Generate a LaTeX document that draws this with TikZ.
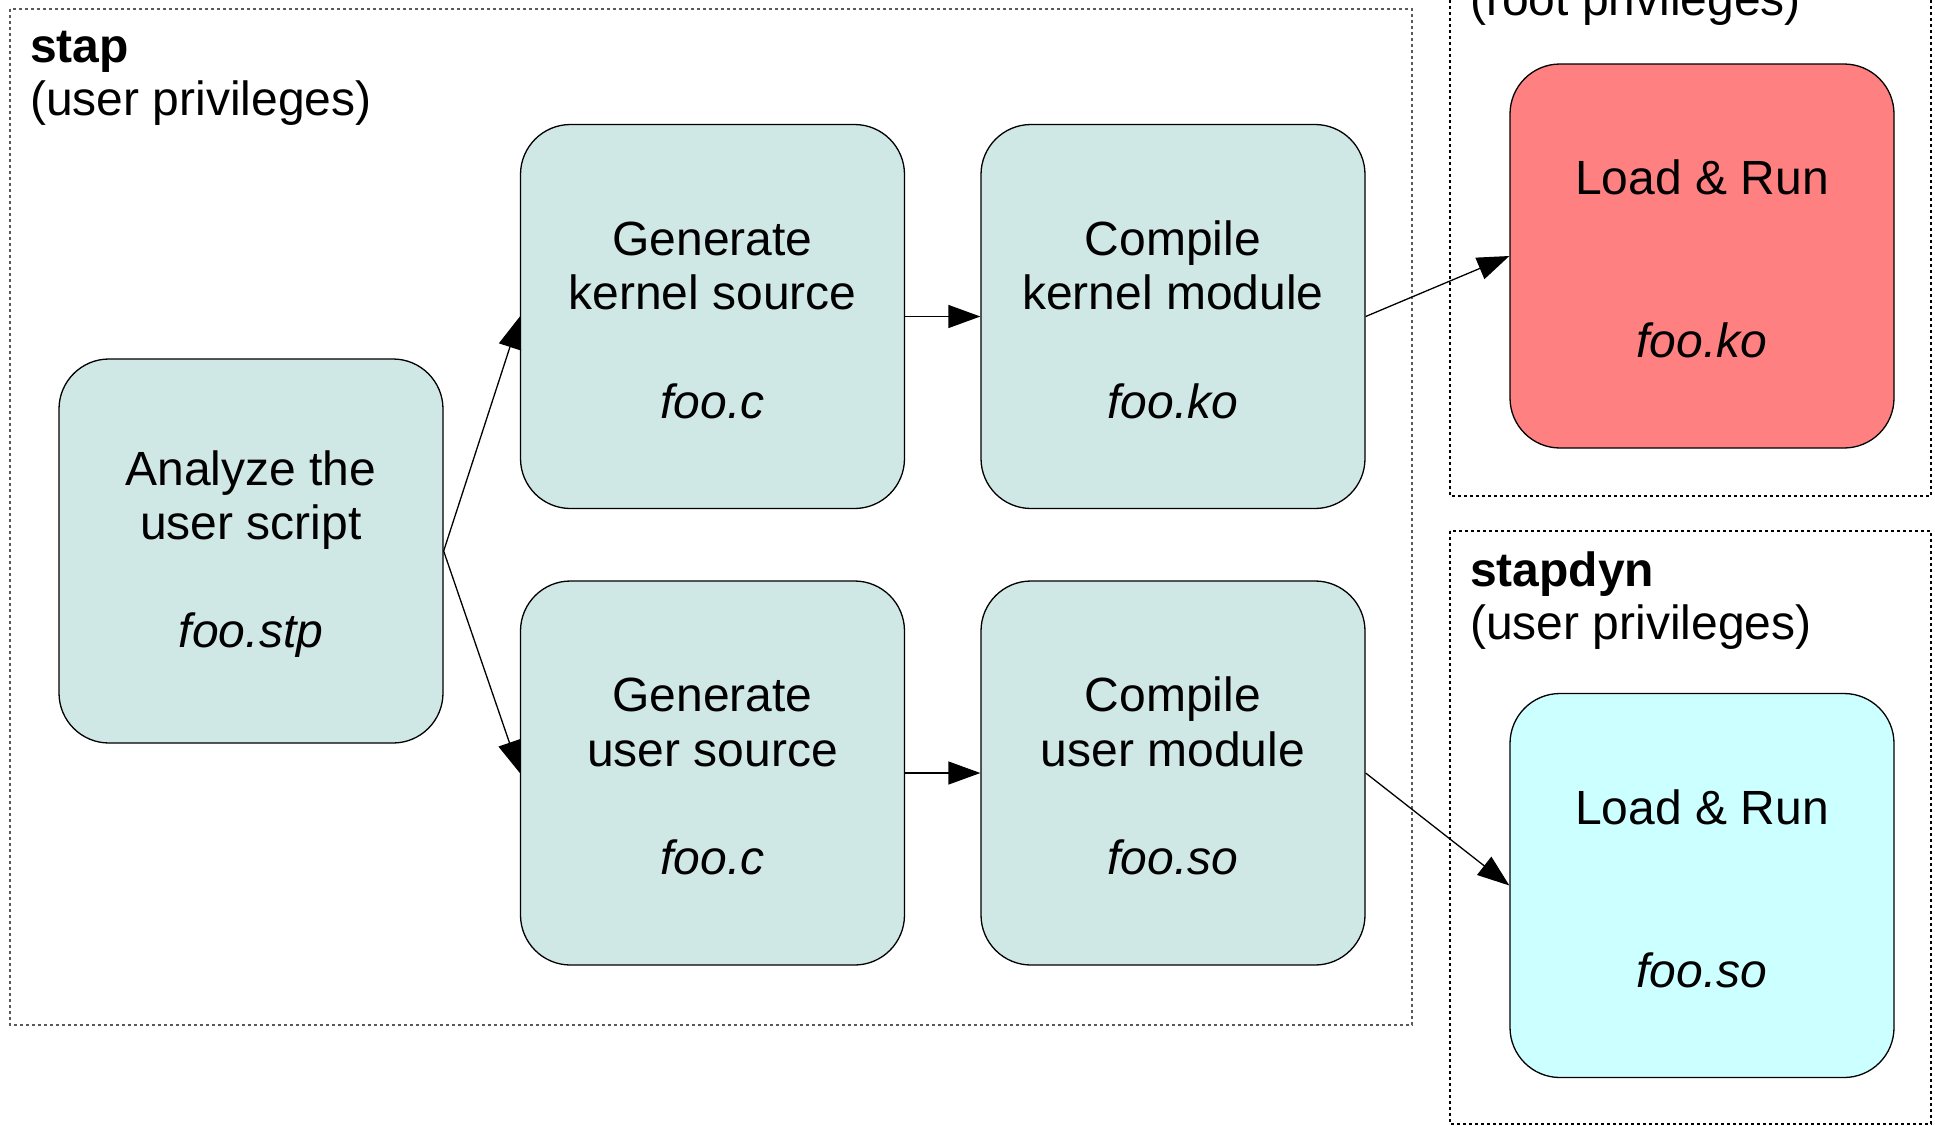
\documentclass[tikz,border=0pt]{standalone}
\usepackage{fontspec}
\setmainfont{Liberation Sans}
\usetikzlibrary{arrows.meta}
\definecolor{stagefill}{RGB}{207,231,229}
\definecolor{rootfill}{RGB}{255,128,128}
\definecolor{userfill}{RGB}{204,255,255}
% raises the first line of a stage text so the block sits a little lower
\newcommand{\firstline}{\rule{0pt}{41pt}}
\begin{document}
\begin{tikzpicture}[x=1pt, y=-1pt,
  font=\fontsize{48}{54.3}\selectfont,
  stage/.style={draw=black, line width=1.3pt, rounded corners=50pt,
    minimum width=384pt, minimum height=384pt, inner sep=0pt,
    align=center, fill=stagefill},
  link/.style={-{Triangle[length=32pt,width=23pt]}, line width=1.3pt},
  group/.style={dash pattern=on 3pt off 3pt, line width=1.2pt},
  title/.style={anchor=base west, inner sep=0pt}]
\useasboundingbox (0,0) rectangle (1935,1125);

% process groups
\draw[group, draw=black!65] (10,9) rectangle (1412,1025);
\draw[group, draw=black] (1450,-120) rectangle (1931,496);
\draw[group, draw=black] (1450,531) rectangle (1931,1124);

\node[title] (stapname) at (30,62) {\bfseries stap};
\node[title] (stappriv) at (30,115) {(user privileges)};
\node[title] (runpriv) at (1470,15) {(root privileges)};
\node[title] (dynname) at (1470,586) {\bfseries stapdyn};
\node[title] (dynpriv) at (1470,639) {(user privileges)};

% stages
\node[stage] (an) at (251,551) {\firstline Analyze the\\user script\\[54.3pt]\textit{foo.stp}};
\node[stage] (gk) at (712.5,316.5) {\firstline Generate\\kernel source\\[54.3pt]\textit{foo.c}};
\node[stage] (ck) at (1173,316.5) {\firstline Compile\\kernel module\\[54.3pt]\textit{foo.ko}};
\node[stage] (gu) at (712.5,773) {\firstline Generate\\user source\\[54.3pt]\textit{foo.c}};
\node[stage] (cu) at (1173,773) {\firstline Compile\\user module\\[54.3pt]\textit{foo.so}};
\node[stage, fill=rootfill] (lk) at (1702,256) {\firstline Load \& Run\\[108.6pt]\textit{foo.ko}};
\node[stage, fill=userfill] (lu) at (1702,885.5) {\firstline Load \& Run\\[108.6pt]\textit{foo.so}};

% flow
\draw[link] (an.east) -- (gk.west);
\draw[link] (an.east) -- (gu.west);
\draw[link] (gk.east) -- (ck.west);
\draw[link] (gu.east) -- (cu.west);
\draw[link] (ck.east) -- (lk.west);
\draw[link] (cu.east) -- (lu.west);
\end{tikzpicture}
\end{document}
